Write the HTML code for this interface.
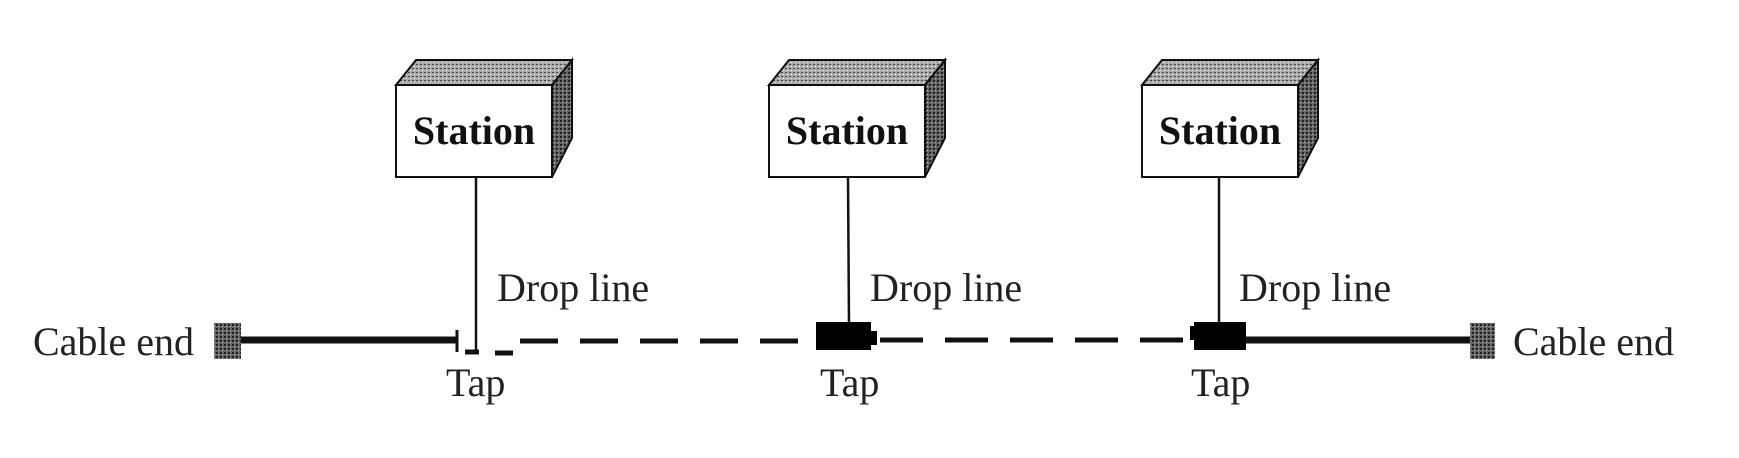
<!DOCTYPE html>
<html><head><meta charset="utf-8"><style>
html,body{margin:0;padding:0;background:#fff;width:1739px;height:458px;overflow:hidden}
svg{display:block}
text{font-family:"Liberation Serif",serif;fill:#222}
</style></head><body>
<svg width="1739" height="458" viewBox="0 0 1739 458" xmlns="http://www.w3.org/2000/svg">
<defs>
<pattern id="tex" width="4" height="4" patternUnits="userSpaceOnUse">
<rect width="4" height="4" fill="#666"/><rect x="0" y="0" width="2" height="2" fill="#222"/><rect x="2" y="2" width="1" height="1" fill="#bbb"/>
</pattern>
<pattern id="tex2" width="4" height="4" patternUnits="userSpaceOnUse">
<rect width="4" height="4" fill="#aaa"/><rect x="0" y="0" width="2" height="1" fill="#444"/><rect x="2" y="2" width="1" height="1" fill="#fff"/>
</pattern>
<g id="st">
<polygon points="0,25 20,0 176,0 156,25" fill="url(#tex2)" stroke="#111" stroke-width="2"/>
<polygon points="156,25 176,0 176,78 156,117" fill="url(#tex)" stroke="#111" stroke-width="2"/>
<rect x="0" y="25" width="156" height="92" fill="#fff" stroke="#111" stroke-width="2"/>
<text x="78" y="84" text-anchor="middle" font-weight="bold" font-size="40" style="fill:#111">Station</text>
</g>
</defs>
<use href="#st" x="396" y="60"/>
<use href="#st" x="769" y="60"/>
<use href="#st" x="1142" y="60"/>

<!-- drop lines -->
<line x1="476" y1="177" x2="476" y2="352" stroke="#111" stroke-width="2.5"/>
<line x1="848" y1="177" x2="849" y2="325" stroke="#111" stroke-width="2.5"/>
<line x1="1219" y1="177" x2="1219" y2="325" stroke="#111" stroke-width="2.5"/>

<!-- left cable -->
<rect x="214" y="323" width="27" height="36" fill="url(#tex)"/>
<line x1="241" y1="340" x2="457" y2="340" stroke="#111" stroke-width="7"/>
<line x1="457" y1="330" x2="457" y2="352" stroke="#111" stroke-width="3"/>
<line x1="465" y1="352" x2="479" y2="352" stroke="#111" stroke-width="5"/>
<line x1="495" y1="353" x2="513" y2="353" stroke="#111" stroke-width="5"/>
<line x1="520" y1="341" x2="816" y2="341" stroke="#111" stroke-width="5" stroke-dasharray="38,22"/>

<!-- tap 2 -->
<rect x="816" y="322" width="55" height="28" fill="#000"/>
<rect x="869" y="331" width="8" height="14" fill="#000"/>
<line x1="880" y1="340" x2="1188" y2="340" stroke="#111" stroke-width="5" stroke-dasharray="43,22"/>

<!-- tap 3 -->
<rect x="1190" y="326" width="8" height="14" fill="#000"/>
<rect x="1194" y="322" width="52" height="28" fill="#000"/>
<line x1="1246" y1="340" x2="1470" y2="340" stroke="#111" stroke-width="7"/>
<rect x="1470" y="323" width="25" height="36" fill="url(#tex)"/>

<!-- labels -->
<text x="33" y="355" font-size="40">Cable end</text>
<text x="1513" y="355" font-size="40">Cable end</text>
<text x="497" y="301" font-size="40">Drop line</text>
<text x="870" y="301" font-size="40">Drop line</text>
<text x="1239" y="301" font-size="40">Drop line</text>
<text x="446" y="396" font-size="40">Tap</text>
<text x="820" y="396" font-size="40">Tap</text>
<text x="1191" y="396" font-size="40">Tap</text>
</svg>
</body></html>
